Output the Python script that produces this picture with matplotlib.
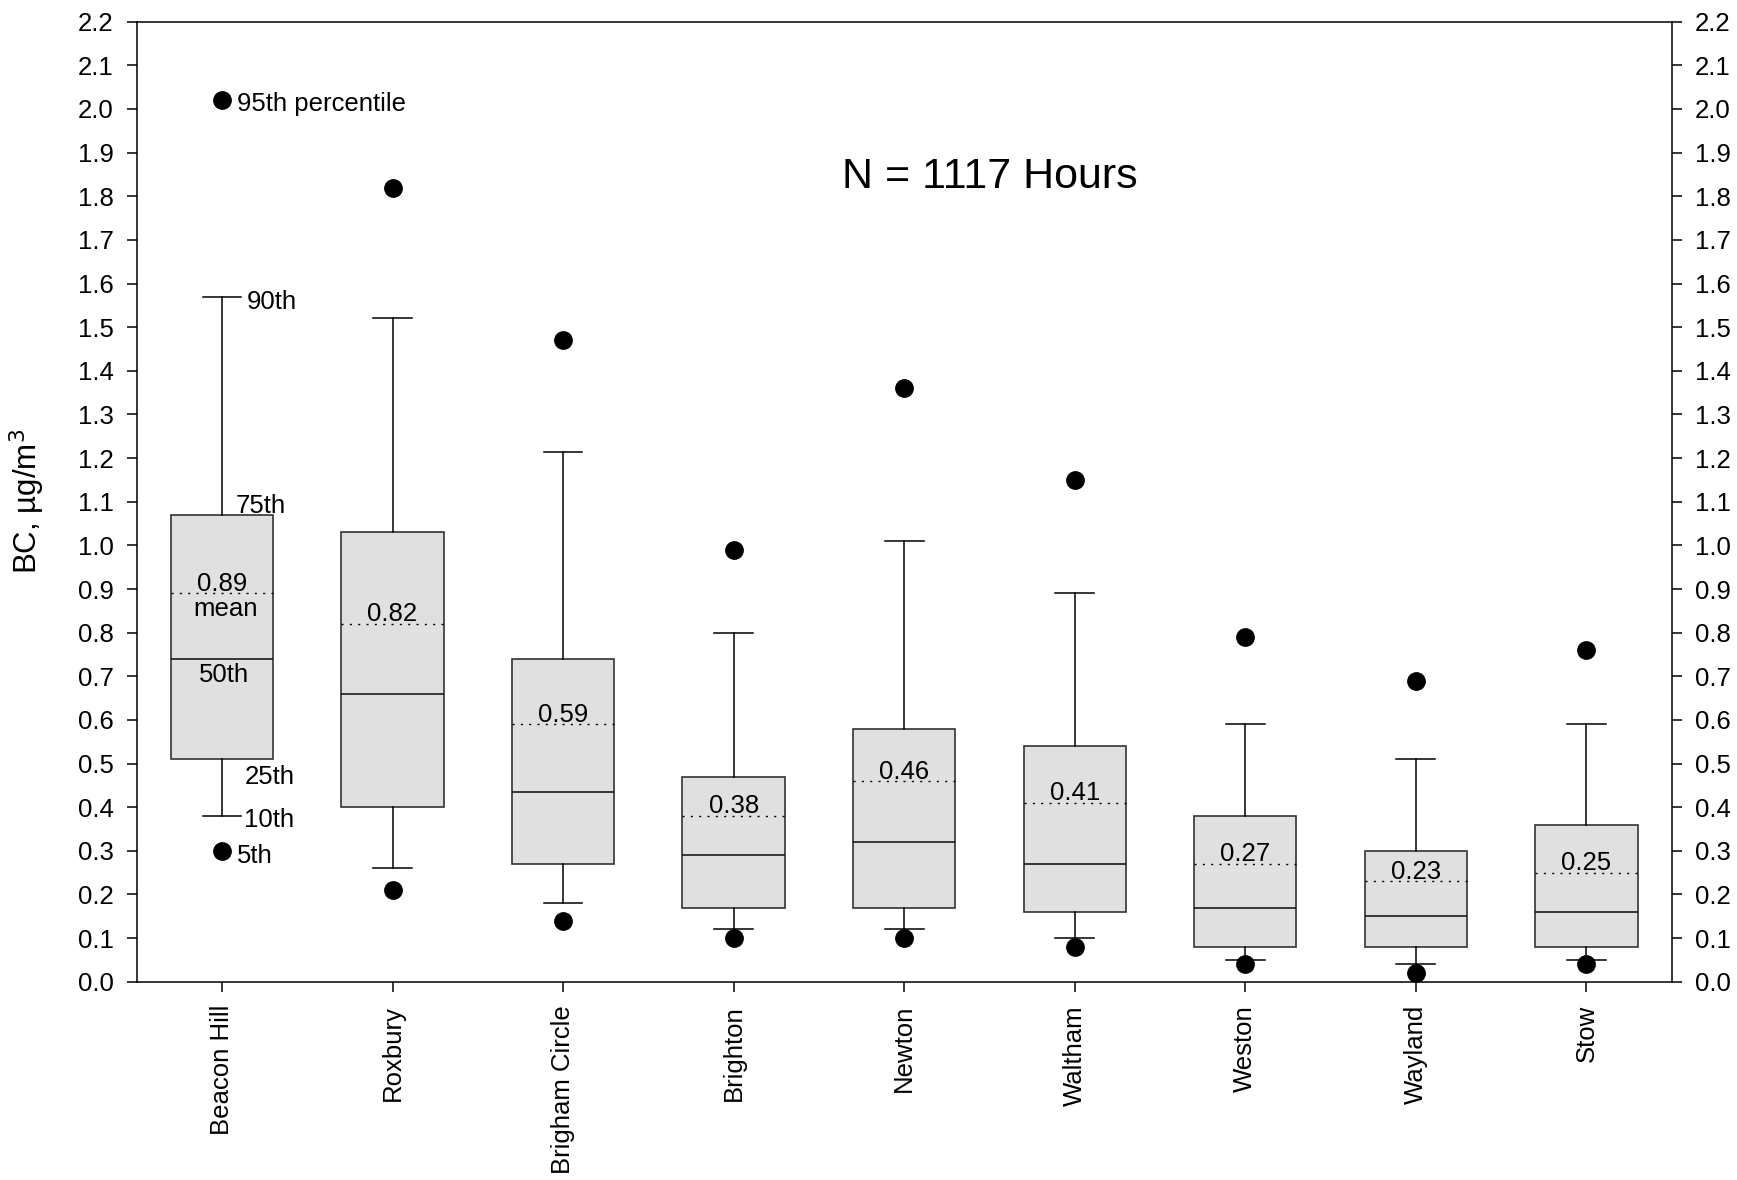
import numpy as np
import matplotlib
matplotlib.use("Agg")
import matplotlib.pyplot as plt

plt.rcParams['font.family'] = ['Liberation Sans', 'DejaVu Sans']

sites = ["Beacon Hill", "Roxbury", "Brigham Circle", "Brighton", "Newton",
         "Waltham", "Weston", "Wayland", "Stow"]
p5 = [0.30, 0.21, 0.14, 0.10, 0.10, 0.08, 0.04, 0.02, 0.04]
p10 = [0.38, 0.26, 0.18, 0.12, 0.12, 0.10, 0.05, 0.04, 0.05]
p25 = [0.51, 0.40, 0.27, 0.17, 0.17, 0.16, 0.08, 0.08, 0.08]
p50 = [0.74, 0.66, 0.435, 0.29, 0.32, 0.27, 0.17, 0.15, 0.16]
means = [0.89, 0.82, 0.59, 0.38, 0.46, 0.41, 0.27, 0.23, 0.25]
p75 = [1.07, 1.03, 0.74, 0.47, 0.58, 0.54, 0.38, 0.30, 0.36]
p90 = [1.57, 1.52, 1.215, 0.80, 1.01, 0.89, 0.59, 0.51, 0.59]
p95 = [2.02, 1.82, 1.47, 0.99, 1.36, 1.15, 0.79, 0.69, 0.76]

fs = 18.5

fig = plt.figure(figsize=(17.37, 11.80), dpi=100)
ax = fig.add_axes([0.0787, 0.168, 0.8837, 0.8136])

stats = []
for i in range(len(sites)):
    stats.append(dict(label=sites[i], med=p50[i], q1=p25[i], q3=p75[i],
                      whislo=p10[i], whishi=p90[i], mean=means[i],
                      fliers=[p5[i], p95[i]]))

pos = np.arange(len(sites))
ax.bxp(stats, positions=pos, widths=0.6, capwidths=0.227, patch_artist=True,
       showmeans=True, meanline=True,
       boxprops=dict(facecolor='#e0e0e0', edgecolor='#333333', linewidth=1.2),
       medianprops=dict(color='#1a1a1a', linewidth=1.2),
       meanprops=dict(color='black', linestyle=(0, (1.5, 4.5)), linewidth=1.0),
       whiskerprops=dict(color='black', linewidth=1.1),
       capprops=dict(color='black', linewidth=1.1),
       flierprops=dict(marker='o', markerfacecolor='black',
                       markeredgecolor='black', markersize=12.5))

# mean values above the dotted line
for x, m in zip(pos, means):
    ax.annotate(f"{m:.2f}", (x, m), xytext=(0, 1.8), textcoords='offset points',
                ha='center', va='baseline', fontsize=fs)

# legend-style labels on the first box
bh = 0
notes = [("95th percentile", p95[bh], 11, -7.7, 'left'),
         ("90th", p90[bh], 18, -8.6, 'left'),
         ("75th", p75[bh], 10, 1.0, 'left'),
         ("mean", means[bh], 2.5, -16.5, 'center'),
         ("50th", p50[bh], 1.5, -16.4, 'center'),
         ("25th", p25[bh], 16.5, -17.8, 'left'),
         ("10th", p10[bh], 15.6, -7.8, 'left'),
         ("5th", p5[bh], 10.8, -8.9, 'left')]
for txt, y, dx, dy, ha in notes:
    ax.annotate(txt, (pos[bh], y), xytext=(dx, dy), textcoords='offset points',
                ha=ha, va='baseline', fontsize=fs)

ax.text(4.5, 1.845, "N = 1117 Hours", ha='center', va='center', fontsize=31)

ax.set_xlim(-0.5, 8.5)
ax.set_ylim(0, 2.2)
ax.set_yticks(np.arange(0, 2.21, 0.1))
ax.set_yticklabels([f"{v:.1f}" for v in np.arange(0, 2.21, 0.1)])
ax.set_xticks(pos)
ax.set_xticklabels(sites, rotation=90, fontsize=fs)
ax.tick_params(axis='y', which='both', left=True, right=True, labelleft=True,
               labelright=True, direction='out', length=7.2, width=1.1,
               pad=9.5, labelsize=fs)
ax.tick_params(axis='x', direction='out', length=7.2, width=1.1, pad=9.5)
for s in ax.spines.values():
    s.set_linewidth(1.1)

ax.set_ylabel("BC, µg/m$^3$", fontsize=22.5)
ax.yaxis.set_label_coords(-0.0584, 0.5)

fig.savefig("out.png", dpi=100)
